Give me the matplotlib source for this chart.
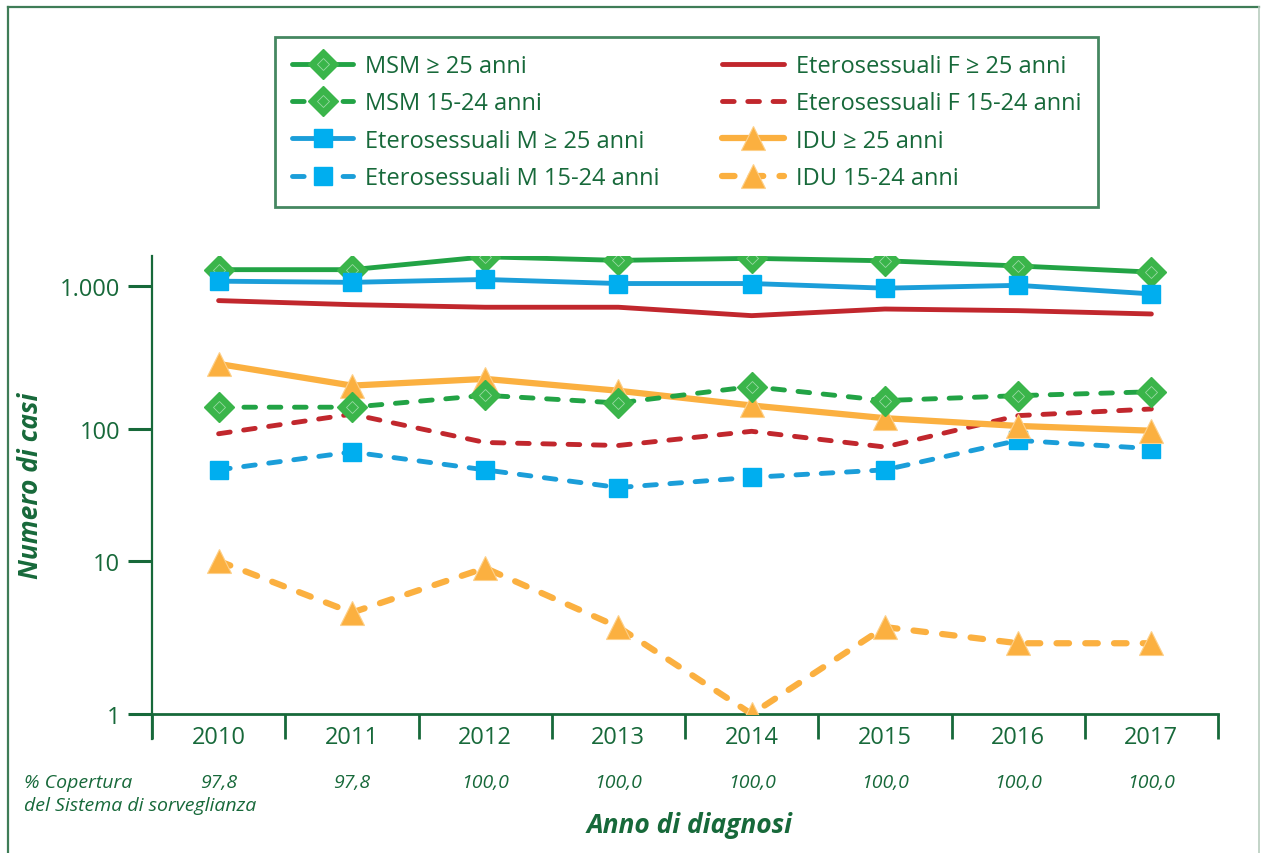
import numpy as np
import matplotlib
matplotlib.use("Agg")
import matplotlib.pyplot as plt
import matplotlib.transforms as mtransforms
from matplotlib.lines import Line2D

# data (log scale)
years = ['2010', '2011', '2012', '2013', '2014', '2015', '2016', '2017']
copertura = ['97,8', '97,8', '100,0', '100,0', '100,0', '100,0', '100,0', '100,0']

msm_25 = [1300, 1300, 1600, 1510, 1560, 1500, 1380, 1250]
msm_15 = [142, 142, 172, 152, 198, 158, 171, 182]
etm_25 = [1080, 1060, 1110, 1040, 1040, 965, 1010, 880]
etm_15 = [49, 67, 49, 36, 43, 49, 82, 71]
etf_25 = [790, 740, 710, 710, 620, 690, 672, 637]
etf_15 = [92, 127, 79, 75, 96, 73, 124, 138]
idu_25 = [285, 201, 224, 185, 146, 119, 105, 97]
idu_15 = [10, 4.6, 9, 3.7, 1, 3.7, 2.9, 2.9]

# colours
TXT = '#17693a'
GREEN = '#22a345'
GREEN_MK = '#3ab54a'
GREEN_IN = '#9ad9a3'
BLUE = '#1b9ed9'
BLUE_MK = '#00aeef'
RED = '#c1272d'
ORANGE = '#fbb040'

plt.rcParams['font.family'] = ['Open Sans', 'DejaVu Sans']

# the original log axis has slightly uneven decades
dec_log = [0, 1, 2, 3, 4]
dec_pos = [0, 153, 285, 428, 571]


def fwd(v):
    with np.errstate(divide='ignore', invalid='ignore'):
        lv = np.log10(np.clip(v, 1e-3, None))
    return np.interp(lv, dec_log, dec_pos)


def inv(p):
    return 10 ** np.interp(p, dec_pos, dec_log)


W, H = 1261, 854
fig = plt.figure(figsize=(W / 100, H / 100), dpi=100, facecolor='white')
ax = fig.add_axes([152 / W, 1 - 715 / H, (1218 - 152) / W, (715 - 257) / H])

x = np.arange(len(years))
dash_thin = (0, (2.4, 2.8))
dash_thick = (0, (2.0, 2.6))
LW = 3.5

# lines (drawing order follows overlap in the reference)
l_idu15, = ax.plot(x, idu_15, color=ORANGE, lw=4.5, ls=dash_thick, dash_capstyle='round',
                   marker='^', ms=17, mfc=ORANGE, mec='#fdd08a', mew=0.8, zorder=3)
l_etf15, = ax.plot(x, etf_15, color=RED, lw=LW, ls=dash_thin, dash_capstyle='round', zorder=3)
l_etm15, = ax.plot(x, etm_15, color=BLUE, lw=LW, ls=dash_thin, dash_capstyle='round',
                   marker='s', ms=13, mfc=BLUE_MK, mec=BLUE_MK, zorder=4)
l_idu25, = ax.plot(x, idu_25, color=ORANGE, lw=4.5, solid_capstyle='round',
                   marker='^', ms=17, mfc=ORANGE, mec='#fdd08a', mew=0.8, zorder=4)
l_msm15, = ax.plot(x, msm_15, color=GREEN, lw=LW, ls=dash_thin, dash_capstyle='round',
                   marker='D', ms=15, mfc=GREEN_MK, mec=GREEN_MK, zorder=5)
i_msm15, = ax.plot(x, msm_15, ls='none', marker='D', ms=6, mfc='none', mec=GREEN_IN, mew=0.6, zorder=5)
l_etf25, = ax.plot(x, etf_25, color=RED, lw=LW, solid_capstyle='round', zorder=5)
l_msm25, = ax.plot(x, msm_25, color=GREEN, lw=LW, solid_capstyle='round',
                   marker='D', ms=15, mfc=GREEN_MK, mec=GREEN_MK, zorder=6)
i_msm25, = ax.plot(x, msm_25, ls='none', marker='D', ms=6, mfc='none', mec=GREEN_IN, mew=0.6, zorder=6)
l_etm25, = ax.plot(x, etm_25, color=BLUE, lw=LW, solid_capstyle='round',
                   marker='s', ms=13, mfc=BLUE_MK, mec=BLUE_MK, zorder=7)

ax.set_yscale('function', functions=(fwd, inv))
ax.set_ylim(1, 1620)
ax.set_xlim(-0.5, 7.5)

ax.set_yticks([1, 10, 100, 1000])
ax.set_yticklabels(['1', '10', '100', '1.000'])
ax.yaxis.set_minor_locator(matplotlib.ticker.NullLocator())
ax.tick_params(axis='y', which='major', direction='out', length=17, width=2.2,
               color=TXT, labelcolor=TXT, labelsize=17, pad=6)

ax.set_xticks(np.arange(-0.5, 8, 1.0))
ax.set_xticklabels([])
ax.set_xticks(x, minor=True)
ax.set_xticklabels(years, minor=True)
ax.tick_params(axis='x', which='major', direction='out', length=18, width=2.0, color=TXT)
ax.tick_params(axis='x', which='minor', length=0, labelcolor=TXT, labelsize=17, pad=8)

for s in ['top', 'right']:
    ax.spines[s].set_visible(False)
ax.spines['left'].set_color(TXT)
ax.spines['left'].set_linewidth(1.6)
ax.spines['bottom'].set_color(TXT)
ax.spines['bottom'].set_linewidth(2.0)

ax.set_ylabel('Numero di casi', fontsize=19, fontweight='bold', style='italic', color=TXT)
ax.yaxis.set_label_coords(-0.101, 0.5)

# left spine continues below the x axis
ax.plot([-0.5, -0.5], [0, -0.055], transform=mtransforms.blended_transform_factory(ax.transData, ax.transAxes),
        color=TXT, lw=1.6, clip_on=False)

# coverage row and x title
tr = mtransforms.blended_transform_factory(ax.transData, fig.transFigure)
for xi, c in zip(x, copertura):
    ax.text(xi, 1 - 783 / H, c, transform=tr, ha='center', va='center', fontsize=14,
            style='italic', color=TXT)
fig.text(24 / W, 1 - 783 / H, '% Copertura', ha='left', va='center', fontsize=14, style='italic', color=TXT)
fig.text(24 / W, 1 - 806 / H, 'del Sistema di sorveglianza', ha='left', va='center', fontsize=14,
         style='italic', color=TXT)
fig.text(690 / W, 1 - 826 / H, 'Anno di diagnosi', ha='center', va='center', fontsize=19,
         fontweight='bold', style='italic', color=TXT)

# outer frame: green on top and left, pale on the right
fig.add_artist(Line2D([8 / W, 8 / W], [0, 1 - 8 / H], transform=fig.transFigure, color='#3f7d57', lw=1.6))
fig.add_artist(Line2D([8 / W, 1259 / W], [1 - 8 / H, 1 - 8 / H], transform=fig.transFigure,
                      color='#3f7d57', lw=1.6))
fig.add_artist(Line2D([1259 / W, 1259 / W], [0, 1 - 8 / H], transform=fig.transFigure,
                      color='#b9cdbf', lw=1.2))

handles = [(l_msm25, i_msm25), (l_msm15, i_msm15), l_etm25, l_etm15,
           l_etf25, l_etf15, l_idu25, l_idu15]
labels = ['MSM \u2265 25 anni', 'MSM 15-24 anni', 'Eterosessuali M \u2265 25 anni',
          'Eterosessuali M 15-24 anni', 'Eterosessuali F \u2265 25 anni',
          'Eterosessuali F 15-24 anni', 'IDU \u2265 25 anni', 'IDU 15-24 anni']
leg = fig.legend(handles, labels, ncol=2, loc='center', mode='expand',
                 bbox_to_anchor=(275 / W, 1 - 208 / H, (1098 - 275) / W, (208 - 38) / H),
                 borderaxespad=0, fontsize=17, frameon=True, fancybox=False, edgecolor=TXT,
                 handlelength=2.6, handletextpad=0.5, labelspacing=0.56, borderpad=0.72,
                 numpoints=1, columnspacing=1.0)
leg.get_frame().set_linewidth(2.0)
for t in leg.get_texts():
    t.set_color(TXT)

fig.savefig('out.png', dpi=100, facecolor='white')
